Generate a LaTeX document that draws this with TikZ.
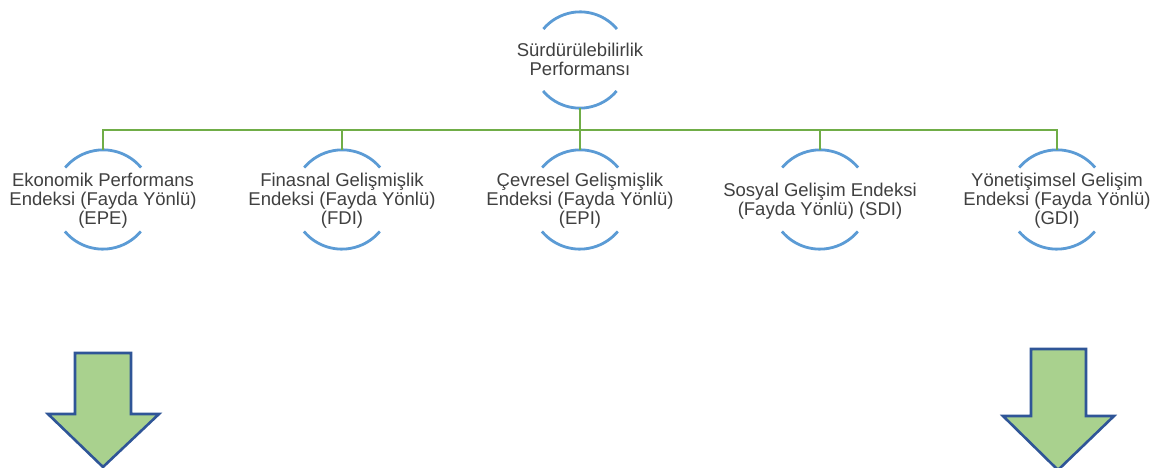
\documentclass[tikz,border=0pt]{standalone}
\usepackage{fontspec}
\setmainfont{Liberation Sans}
\definecolor{arcblue}{HTML}{5B9BD5}
\definecolor{busgreen}{HTML}{70AD47}
\definecolor{arrfill}{HTML}{A9D18E}
\definecolor{arrdraw}{HTML}{2F5597}
\definecolor{txtgray}{HTML}{404040}
\begin{document}
\begin{tikzpicture}[x=1pt,y=-1pt,
  ring/.style={circle,inner sep=0pt,minimum size=#1},
  lbl/.style={align=center,inner sep=0pt,text=txtgray,font=\fontsize{18.5}{19}\selectfont},
  arcline/.style={draw=arcblue,line width=2.8pt},
  busline/.style={draw=busgreen,line width=2.8pt},
  bigarrow/.style={fill=arrfill,draw=arrdraw,line width=2.6pt,line join=miter}]
\fill[white] (0,0) rectangle (1163,468);
\useasboundingbox (0,0) rectangle (1163,468);

% top node
\node[ring=96pt] (top) at (580,60) {};
\node[lbl] (ttop) at (580,59.5) {Sürdürülebilirlik\\Performansı};
\draw[arcline] (top.40) arc[start angle=-40,end angle=-140,radius=48];
\draw[arcline] (top.220) arc[start angle=140,end angle=40,radius=48];

% children
\foreach \n/\x in {c1/103,c2/342,c3/580,c4/820,c5/1057}{
  \node[ring=99pt] (\n) at (\x,199.5) {};
  \draw[arcline] (\n.40) arc[start angle=-40,end angle=-140,radius=49.5];
  \draw[arcline] (\n.220) arc[start angle=140,end angle=40,radius=49.5];
}
\node[lbl] (t1) at ([yshift=-1.5pt]c1) {Ekonomik Performans\\Endeksi (Fayda Yönlü)\\(EPE)};
\node[lbl] (t2) at ([yshift=-1.5pt]c2) {Finasnal Gelişmişlik\\Endeksi (Fayda Yönlü)\\(FDI)};
\node[lbl] (t3) at ([yshift=-1.5pt]c3) {Çevresel Gelişmişlik\\Endeksi (Fayda Yönlü)\\(EPI)};
\node[lbl] (t4) at ([yshift=-1.5pt]c4) {Sosyal Gelişim Endeksi\\(Fayda Yönlü) (SDI)};
\node[lbl] (t5) at ([yshift=-1.5pt]c5) {Yönetişimsel Gelişim\\Endeksi (Fayda Yönlü)\\(GDI)};

% connectors
\coordinate (bus) at (580,130);
\draw[busline] (top.south) -- (bus);
\foreach \n in {c1,c2,c3,c4,c5}{
  \draw[busline] (bus) -| (\n.north);
}

% block arrows
\draw[bigarrow] (75,353) -- (131,353) -- (131,414) -- (159,414) -- (103,467) -- (48,414) -- (75,414) -- cycle;
\draw[bigarrow] (1031,349) -- (1086,349) -- (1086,416) -- (1114,416) -- (1058,470) -- (1003,416) -- (1031,416) -- cycle;
\end{tikzpicture}
\end{document}
